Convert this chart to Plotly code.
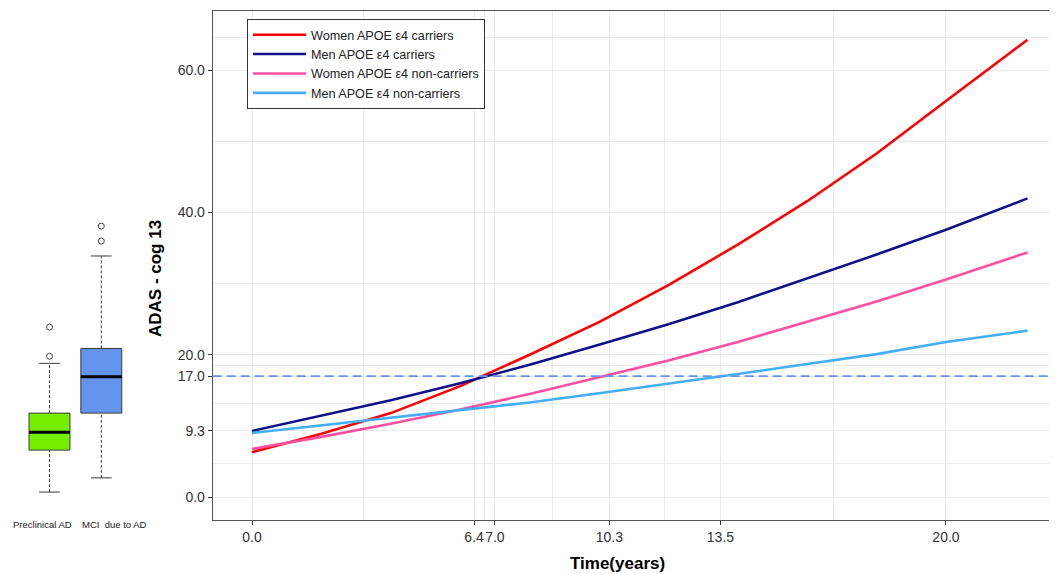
import plotly.graph_objects as go

# ---------------- data ----------------
time_years = [0, 2, 4, 6, 8, 10, 12, 14, 16, 18, 20, 22.35]
women_e4_carriers = [6.3, 8.9, 11.8, 15.6, 20.0, 24.6, 29.8, 35.5, 41.6, 48.3, 55.7, 64.3]
men_e4_carriers = [9.3, 11.4, 13.6, 16.0, 18.6, 21.4, 24.3, 27.4, 30.7, 34.1, 37.6, 42.0]
women_e4_noncarriers = [6.75, 8.46, 10.3, 12.3, 14.5, 16.8, 19.2, 21.8, 24.6, 27.5, 30.6, 34.4]
men_e4_noncarriers = [9.0, 10.1, 11.2, 12.3, 13.3, 14.6, 15.9, 17.3, 18.7, 20.1, 21.8, 23.4]

series_names = ["Women APOE \u03b54 carriers", "Men APOE \u03b54 carriers",
                "Women APOE \u03b54 non-carriers", "Men APOE \u03b54 non-carriers"]
series_values = [women_e4_carriers, men_e4_carriers, women_e4_noncarriers, men_e4_noncarriers]
series_colors = ["#FF0000", "#10108A", "#FF4FA0", "#45AEF8"]

threshold = 17.0
x_tick_vals = [0.0, 6.4, 7.0, 10.3, 13.5, 20.0]
y_tick_vals = [0.0, 9.3, 17.0, 20.0, 40.0, 60.0]

box_groups = ["Preclinical AD", "MCI  due to AD"]
box_low_whisker = [0.7, 2.7]
box_q1 = [6.6, 11.8]
box_median = [9.1, 16.9]
box_q3 = [11.8, 20.9]
box_high_whisker = [18.8, 33.9]
box_outliers = [[19.8, 23.9], [36.0, 38.1]]
box_fill = ["#76EE00", "#6495ED"]

# ---------------- layout constants ----------------
# The page has an 8px body margin, so the figure is 8px smaller and offset.
OFF = 8
W, H = 1057 - OFF, 574 - OFF
FONT = "Liberation Sans, Arial, sans-serif"
PLOT_L, PLOT_T, PLOT_B = 212.7 - OFF, 11 - OFF, 520 - OFF
PLOT_H = PLOT_B - PLOT_T
x_range = [-1.133, 23.2]
y_range = [-3.23, 68.35]
main_dom = [PLOT_L / W, 1.0]
box_dom = [0.0, PLOT_L / W]
box_range = [-(49.5 - OFF) / 51.8, (PLOT_L - (49.5 - OFF)) / 51.8]
GRID = "#EBEBEB"


def px_x(xr):
    return (xr - OFF) / W


def px_y(yr):
    return (PLOT_B - (yr - OFF)) / PLOT_H


def minor_breaks(b, lim):
    b = list(b)
    bd = b[1] - b[0]
    if lim[0] < b[0]:
        b = [b[0] - bd] + b
    if lim[1] > b[-1]:
        b = b + [b[-1] + bd]
    return [(b[i] + b[i + 1]) / 2 for i in range(len(b) - 1)]


fig = go.Figure()

# lines
for name, vals, col in zip(series_names, series_values, series_colors):
    fig.add_trace(go.Scatter(x=time_years, y=vals, mode="lines", name=name,
                             line=dict(color=col, width=2.6),
                             xaxis="x", yaxis="y"))

fig.add_hline(y=threshold, line=dict(color="#6495ED", dash="9px,5px", width=1.8),
              layer="above")

# boxplots (left panel)
half_box = 0.395
half_cap = 0.2
for i, g in enumerate(box_groups):
    fig.add_trace(go.Box(x=[i], q1=[box_q1[i]], median=[box_median[i]], q3=[box_q3[i]],
                         lowerfence=[box_q1[i]], upperfence=[box_q3[i]],
                         width=2 * half_box, whiskerwidth=0,
                         fillcolor=box_fill[i], line=dict(color="#3A3A3A", width=1),
                         showlegend=False, xaxis="x2", yaxis="y2", hoverinfo="skip"))
    fig.add_trace(go.Scatter(x=[i, i, None, i, i],
                             y=[box_low_whisker[i], box_q1[i], None, box_q3[i], box_high_whisker[i]],
                             mode="lines", line=dict(color="#3A3A3A", width=1, dash="3px,2px"),
                             showlegend=False, xaxis="x2", yaxis="y2", hoverinfo="skip"))
    fig.add_trace(go.Scatter(x=[i - half_cap, i + half_cap, None, i - half_cap, i + half_cap],
                             y=[box_low_whisker[i], box_low_whisker[i], None,
                                box_high_whisker[i], box_high_whisker[i]],
                             mode="lines", line=dict(color="#3A3A3A", width=1),
                             showlegend=False, xaxis="x2", yaxis="y2", hoverinfo="skip"))
    fig.add_trace(go.Scatter(x=[i - half_box, i + half_box], y=[box_median[i], box_median[i]],
                             mode="lines", line=dict(color="#000000", width=3),
                             showlegend=False, xaxis="x2", yaxis="y2", hoverinfo="skip"))
    fig.add_trace(go.Scatter(x=[i] * len(box_outliers[i]), y=box_outliers[i], mode="markers",
                             marker=dict(symbol="circle-open", size=6, color="#444444",
                                         line=dict(width=1)),
                             showlegend=False, xaxis="x2", yaxis="y2", hoverinfo="skip"))

axis_common = dict(ticks="outside", ticklen=4, tickcolor="#333333", tickwidth=1,
                   showline=True, linecolor="#555555", linewidth=1, zeroline=False,
                   showgrid=True, gridcolor=GRID, gridwidth=1, tickangle=0,
                   automargin=False,
                   tickfont=dict(family=FONT, size=14, color="#333333"))

fig.update_layout(
    width=W, height=H,
    margin=dict(l=0, r=0, t=PLOT_T, b=H - PLOT_B),
    paper_bgcolor="white", plot_bgcolor="white",
    font=dict(family=FONT),
    xaxis=dict(domain=main_dom, range=x_range, anchor="y", mirror=True,
               tickvals=x_tick_vals, ticktext=["%.1f" % v for v in x_tick_vals],
               minor=dict(tickvals=minor_breaks(x_tick_vals, x_range), showgrid=True,
                          gridcolor=GRID, gridwidth=1),
               **axis_common),
    yaxis=dict(range=y_range, anchor="x",
               tickvals=y_tick_vals, ticktext=["%.1f" % v for v in y_tick_vals],
               minor=dict(tickvals=minor_breaks(y_tick_vals, y_range), showgrid=True,
                          gridcolor=GRID, gridwidth=1),
               **axis_common),
    xaxis2=dict(domain=box_dom, range=box_range, anchor="y2", visible=False),
    yaxis2=dict(range=y_range, anchor="x2", visible=False),
    legend=dict(x=px_x(247), y=px_y(19), xanchor="left", yanchor="top",
                bordercolor="#333333", borderwidth=1, bgcolor="white",
                font=dict(family=FONT, size=12.6, color="#222222"),
                itemwidth=53, tracegroupgap=0),
    showlegend=True,
)

# axis titles
fig.add_annotation(text="<b>Time(years)</b>", xref="paper", yref="paper",
                   x=px_x(617), y=px_y(563), showarrow=False,
                   xanchor="center", yanchor="middle",
                   font=dict(family=FONT, size=17, color="#000000"))
fig.add_annotation(text="<b>ADAS - cog 13</b>", xref="paper", yref="paper",
                   x=px_x(155), y=px_y(279), showarrow=False, textangle=-90,
                   xanchor="center", yanchor="middle",
                   font=dict(family=FONT, size=17, color="#000000"))

# box group labels
box_label_px = [42, 114.5]
for lbl, p in zip(box_groups, box_label_px):
    fig.add_annotation(text=lbl, xref="paper", yref="paper", x=px_x(p), y=px_y(524),
                       showarrow=False, xanchor="center", yanchor="middle",
                       font=dict(family=FONT, size=9.5, color="#222222"))

fig.write_html("out.html")
